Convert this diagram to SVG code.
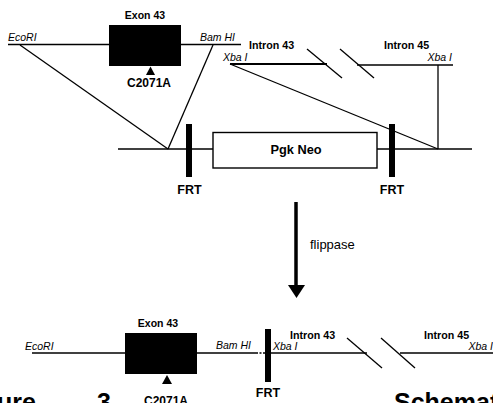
<svg xmlns="http://www.w3.org/2000/svg" width="493" height="403" viewBox="0 0 493 403">
<style>
.b{font-family:"Liberation Sans",Arial,sans-serif;font-weight:bold;fill:#000}
.i{font-family:"Liberation Sans",Arial,sans-serif;font-style:italic;font-size:10.5px;fill:#000}
.ln{stroke:#000;stroke-width:1.3;fill:none}
.frt{fill:#000}
</style>
<rect width="493" height="403" fill="#fff"/>
<g id="connectors">
  <line class="ln" x1="8" y1="44.5" x2="241" y2="44.5"/>
  <line class="ln" x1="20" y1="45" x2="168" y2="149"/>
  <line class="ln" x1="213" y1="45" x2="168" y2="149"/>
  <line class="ln" x1="118" y1="149" x2="472" y2="149"/>
  <line x1="230" y1="64" x2="327" y2="64" stroke="#000" stroke-width="1.8"/>
  <line class="ln" x1="357" y1="65" x2="453" y2="65"/>
  <line class="ln" x1="307" y1="49" x2="342" y2="78"/>
  <line class="ln" x1="340" y1="49" x2="374" y2="78"/>
  <line class="ln" x1="230" y1="64" x2="438" y2="149"/>
  <line class="ln" x1="438" y1="65" x2="438" y2="149"/>
  <line x1="296" y1="202" x2="296" y2="287" stroke="#000" stroke-width="3.5"/>
  <polygon points="288,285 305,285 296.5,298" fill="#000"/>
  <line class="ln" x1="32" y1="353" x2="256" y2="353"/>
  <line x1="256" y1="353" x2="266" y2="353" stroke="#000" stroke-width="1.5" stroke-dasharray="2,1.5"/>
  <line x1="268" y1="353" x2="367" y2="353" stroke="#000" stroke-width="1.5"/>
  <line class="ln" x1="400" y1="353" x2="493" y2="353"/>
  <line class="ln" x1="347" y1="338" x2="382" y2="368"/>
  <line class="ln" x1="381" y1="338" x2="415" y2="368"/>
</g>
<g id="exon43-top">
  <rect x="109" y="25" width="72" height="41" fill="#000"/>
  <text class="b" x="145" y="18.5" font-size="10.5" text-anchor="middle">Exon 43</text>
  <polygon points="146,75 155,75 150.5,66.5" fill="#000"/>
  <text class="b" x="149" y="87" font-size="12" text-anchor="middle">C2071A</text>
</g>
<g id="labels-top">
  <text class="i" x="8" y="41">EcoRI</text>
  <text class="i" x="200" y="41">Bam HI</text>
  <text class="i" x="223" y="61">Xba I</text>
  <text class="i" x="452" y="61" text-anchor="end">Xba I</text>
  <text class="b" x="249" y="49" font-size="10.7">Intron 43</text>
  <text class="b" x="384" y="49" font-size="10.7">Intron 45</text>
</g>
<g id="pgkneo">
  <rect x="213" y="132.5" width="164" height="35.5" fill="#fff" stroke="#000" stroke-width="1.4"/>
  <text class="b" x="296" y="154" font-size="12.8" text-anchor="middle">Pgk Neo</text>
</g>
<g id="frt1">
  <rect class="frt" x="186" y="124" width="6" height="53"/>
  <text class="b" x="189.5" y="194" font-size="12.5" text-anchor="middle">FRT</text>
</g>
<g id="frt2">
  <rect class="frt" x="389" y="124" width="6" height="53"/>
  <text class="b" x="392" y="194" font-size="12.5" text-anchor="middle">FRT</text>
</g>
<g id="flippase">
  <text x="310" y="249" font-family="Liberation Sans, Arial, sans-serif" font-size="13" fill="#000">flippase</text>
</g>
<g id="exon43-bottom">
  <rect x="125" y="333" width="72" height="41" fill="#000"/>
  <text class="b" x="158" y="327" font-size="10.5" text-anchor="middle">Exon 43</text>
  <polygon points="162,384 172,384 167,375" fill="#000"/>
  <text class="b" x="166" y="405" font-size="12" text-anchor="middle">C2071A</text>
</g>
<g id="frt-bottom">
  <rect class="frt" x="265" y="329" width="6" height="53"/>
  <text class="b" x="268" y="397" font-size="12.5" text-anchor="middle">FRT</text>
</g>
<g id="labels-bottom">
  <text class="i" x="25" y="350">EcoRI</text>
  <text class="i" x="216" y="349">Bam HI</text>
  <text class="i" x="273" y="350">Xba I</text>
  <text class="i" x="493" y="350" text-anchor="end">Xba I</text>
  <text class="b" x="290" y="339" font-size="10.7">Intron 43</text>
  <text class="b" x="424" y="339" font-size="10.7">Intron 45</text>
</g>
<g id="caption">
  <text class="b" x="-3" y="411" font-size="25">ure</text>
  <text class="b" x="97" y="411" font-size="25">3</text>
  <text class="b" x="394" y="411" font-size="25">Schemat</text>
</g>
</svg>
